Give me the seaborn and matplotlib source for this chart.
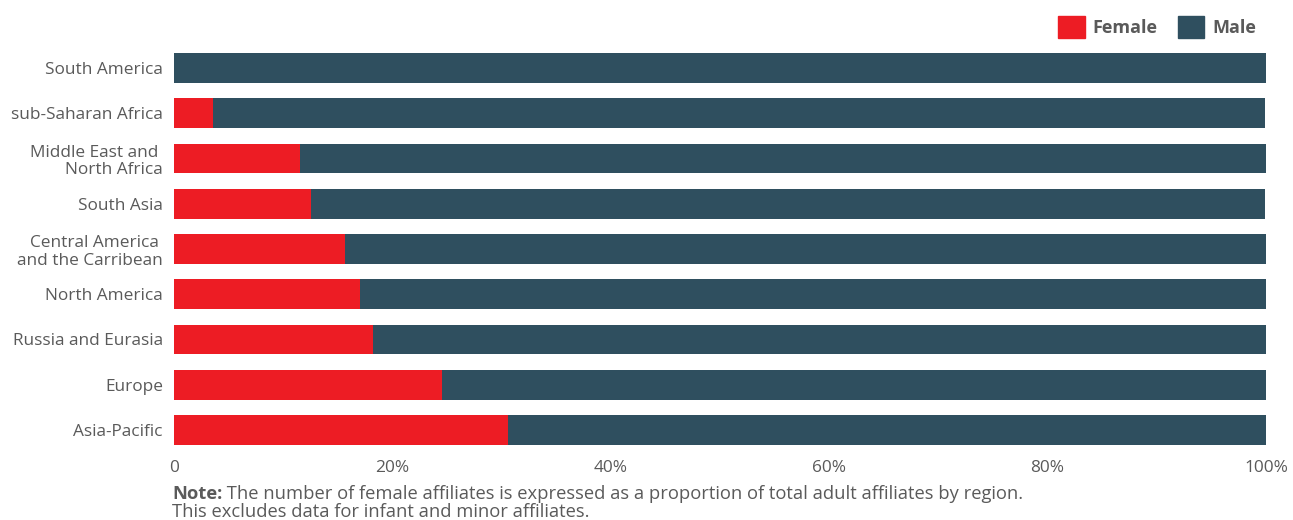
import matplotlib.pyplot as plt
import pandas as pd
import seaborn as sns
from matplotlib.patches import Patch
from matplotlib.ticker import FuncFormatter

regions = [
    "South America",
    "sub-Saharan Africa",
    "Middle East and \nNorth Africa",
    "South Asia",
    "Central America \nand the Carribean",
    "North America",
    "Russia and Eurasia",
    "Europe",
    "Asia-Pacific",
]
female_pct = [0.0, 3.6, 11.5, 12.5, 15.7, 17.0, 18.2, 24.5, 30.6]
male_pct = [100.0, 96.3, 88.5, 87.4, 84.5, 83.2, 82.0, 75.7, 69.4]

RED = "#ed1c24"
SLATE = "#2f4f5f"
GREY = "#5a5a5a"


def main() -> None:
    df = pd.DataFrame({"region": regions, "female": female_pct, "male": male_pct})
    df["total"] = df["female"] + df["male"]

    sns.set_theme(style="white")
    plt.rcParams["font.family"] = ["Open Sans", "DejaVu Sans"]

    fig = plt.figure(figsize=(12.93, 5.2), dpi=100)
    ax = fig.add_axes([174 / 1293, 1 - 452.6 / 520, 1092 / 1293, (452.6 - 45.4) / 520])

    # stacked: draw the full bar in the male colour, female share on top
    sns.barplot(data=df, x="total", y="region", color=SLATE, width=0.66,
                saturation=1, linewidth=0, ax=ax)
    sns.barplot(data=df, x="female", y="region", color=RED, width=0.66,
                saturation=1, linewidth=0, ax=ax)

    ax.set_xlim(0, 100)
    ax.set_ylim(8.5, -0.5)
    ax.set_xticks([0, 20, 40, 60, 80, 100])
    ax.xaxis.set_major_formatter(FuncFormatter(lambda v, _: "0" if v == 0 else f"{v:.0f}%"))
    ax.set_xlabel("")
    ax.set_ylabel("")
    ax.tick_params(axis="both", length=0, labelsize=12.4, labelcolor=GREY)
    ax.tick_params(axis="x", pad=5)
    ax.tick_params(axis="y", pad=8)
    for lbl in ax.get_yticklabels():
        lbl.set_linespacing(1.15)
    sns.despine(ax=ax, left=True, bottom=True)

    handles = [Patch(color=RED, label="Female"), Patch(color=SLATE, label="Male")]
    fig.legend(
        handles=handles,
        loc="upper right",
        bbox_to_anchor=(1272 / 1293, 1.0),
        ncol=2,
        frameon=False,
        handlelength=1.45,
        handleheight=1.45,
        handletextpad=0.45,
        columnspacing=1.1,
        prop={"weight": "bold", "size": 13},
        labelcolor=GREY,
    )

    note_y1 = 1 - 494 / 520
    note_y2 = 1 - 512 / 520
    note = fig.text(172 / 1293, note_y1, "Note:", fontsize=13.2, fontweight="bold",
                    color=GREY, va="center")
    fig.canvas.draw()
    bb = note.get_window_extent()
    fig.text(bb.x1 / 1293, note_y1,
             " The number of female affiliates is expressed as a proportion of total adult affiliates by region.",
             fontsize=13.2, color=GREY, va="center")
    fig.text(172 / 1293, note_y2,
             "This excludes data for infant and minor affiliates.",
             fontsize=13.2, color=GREY, va="center")

    fig.savefig("out.png", dpi=100)
    plt.close(fig)


if __name__ == "__main__":
    main()
